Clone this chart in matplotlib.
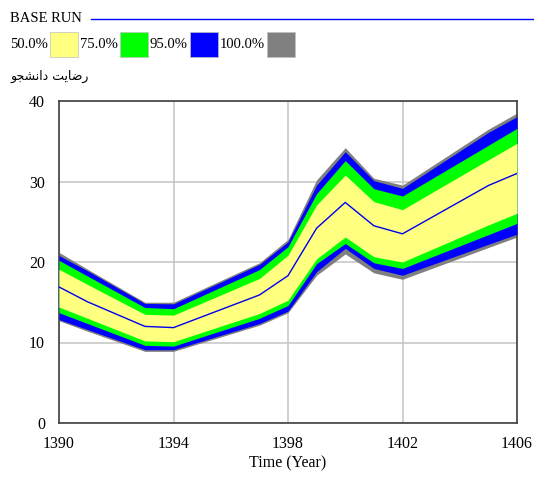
import matplotlib.pyplot as plt
from matplotlib.patches import Rectangle
from matplotlib.lines import Line2D

# data
years = [1390, 1391, 1393, 1394, 1397, 1398, 1399, 1400, 1401, 1402, 1405, 1406]
median = [16.9, 15.05, 12.0, 11.85, 15.9, 18.3, 24.2, 27.4, 24.5, 23.5, 29.5, 31.0]
# confidence bounds (upper / lower)
p100_hi = [21.2, 19.1, 15.0, 15.0, 19.9, 22.8, 30.2, 34.2, 30.4, 29.55, 36.5, 38.5]
p95_hi = [20.8, 18.9, 14.85, 14.8, 19.7, 22.5, 29.55, 33.7, 30.1, 29.15, 36.1, 38.05]
p75_hi = [20.2, 18.25, 14.35, 14.2, 19.05, 21.9, 28.5, 32.6, 29.1, 28.2, 34.5, 36.6]
p50_hi = [19.1, 17.2, 13.5, 13.4, 17.95, 20.85, 27.1, 30.8, 27.5, 26.5, 32.7, 34.75]
p50_lo = [14.4, 13.0, 10.2, 10.1, 13.6, 15.25, 20.4, 23.1, 20.65, 20.0, 24.6, 26.05]
p75_lo = [13.7, 12.35, 9.65, 9.55, 13.0, 14.6, 19.8, 22.3, 19.9, 19.2, 23.4, 24.8]
p95_lo = [12.85, 11.6, 9.1, 9.1, 12.35, 13.9, 18.8, 21.7, 19.2, 18.35, 22.2, 23.45]
p100_lo = [12.7, 11.4, 8.9, 8.9, 12.15, 13.7, 18.35, 21.0, 18.65, 17.85, 21.8, 23.1]

band_labels = ['50.0%', '75.0%', '95.0%', '100.0%']
band_colors = ['#ffff80', '#00ff00', '#0000ff', '#808080']
ylabel_fa = 'رضایت دانشجو'
# same label in visual order with joined forms (matplotlib has no arabic shaping)
ylabel_shown = 'ﻮﺠﺸﻧﺍﺩ ﺖﯾﺎﺿﺭ'

plt.rcParams['font.family'] = ['Liberation Serif', 'DejaVu Sans']

W, H = 534, 479
fig = plt.figure(figsize=(W / 100, H / 100), dpi=100)
ax = fig.add_axes([59 / W, 1 - 423 / H, (517 - 59) / W, (423 - 101) / H])

ax.fill_between(years, p100_lo, p100_hi, color=band_colors[3], lw=0, zorder=2)
ax.fill_between(years, p95_lo, p95_hi, color=band_colors[2], lw=0, zorder=3)
ax.fill_between(years, p75_lo, p75_hi, color=band_colors[1], lw=0, zorder=4)
ax.fill_between(years, p50_lo, p50_hi, color=band_colors[0], lw=0, zorder=5)
ax.plot(years, median, color='#0000ee', lw=1.0, zorder=6)

ax.set_xlim(1390, 1406)
ax.set_ylim(0, 40)
ax.set_xticks([1390, 1394, 1398, 1402, 1406])
ax.set_yticks([0, 10, 20, 30, 40])
ax.grid(True, color='#c8c8c8', lw=1.2, zorder=1)
ax.set_axisbelow(True)
ax.tick_params(length=0, labelsize=11.5)
ax.tick_params(axis='x', pad=9)
ax.tick_params(axis='y', pad=10)
for s in ax.spines.values():
    s.set_color('#404040')
    s.set_linewidth(1.2)
ax.set_xlabel('Time (Year)', fontsize=11.5, labelpad=3)

# legend drawn in figure pixels
def fx(px):
    return px / W

def fy(py):
    return 1 - py / H

fig.text(fx(10), fy(19), 'BASE RUN', fontsize=10.5, va='center', ha='left')
fig.add_artist(Line2D([fx(91), fx(534)], [fy(18.5), fy(18.5)], color='#0000ff', lw=1))

text_x = [10, 80, 150, 220]
box_x = [50, 120, 190, 267]
for lab, c, tx, bx in zip(band_labels, band_colors, text_x, box_x):
    fig.text(fx(tx), fy(45), lab, fontsize=10.5, va='center', ha='left')
    fig.add_artist(Rectangle((fx(bx), fy(57)), fx(28), 25 / H, facecolor=c,
                             edgecolor='#c0c0c0', lw=0.5))

fig.text(fx(10), fy(76), ylabel_shown, fontsize=9, va='center', ha='left',
         family='DejaVu Sans')

fig.savefig('out.png', dpi=100)
